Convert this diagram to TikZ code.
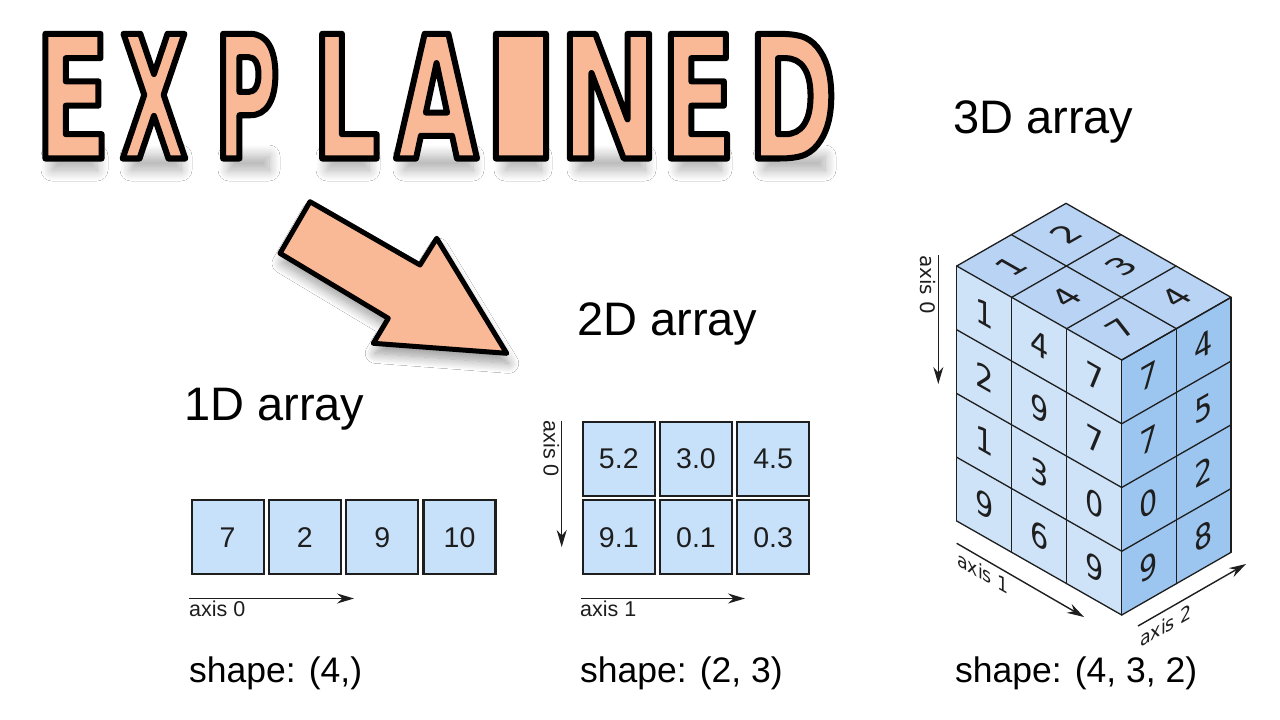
\documentclass[tikz,border=0pt]{standalone}
\usepackage{fontspec}
\setmainfont{Liberation Sans}
\newfontfamily\dejavu{DejaVu Sans}
\newfontfamily\fE{DejaVu Sans}[FakeStretch=0.635]
\newfontfamily\fX{DejaVu Sans}[FakeStretch=0.50]
\newfontfamily\fP{DejaVu Sans}[FakeStretch=0.51]
\newfontfamily\fL{DejaVu Sans}[FakeStretch=0.615]
\newfontfamily\fA{DejaVu Sans}[FakeStretch=0.62]
\newfontfamily\fI{DejaVu Sans}[FakeStretch=1.56]
\newfontfamily\fN{DejaVu Sans}[FakeStretch=0.71]
\newfontfamily\fD{DejaVu Sans}[FakeStretch=0.625]
\usetikzlibrary{arrows.meta,shadows.blur}
\definecolor{peach}{RGB}{250,185,150}
\definecolor{cellblue}{RGB}{200,225,250}
\definecolor{faceL}{RGB}{206,226,248}
\definecolor{faceT}{RGB}{184,211,243}
\definecolor{faceR}{RGB}{156,198,240}
\definecolor{ink}{RGB}{30,30,30}
\newcommand{\outl}[1]{\special{pdf:literal direct 1 j 6 w 0 0 0 RG 2 Tr}#1\special{pdf:literal direct 0 Tr}}
\begin{document}
\begin{tikzpicture}[x=1pt,y=-1pt,
  cell/.style={draw=ink, line width=2.2pt, fill=cellblue, minimum width=72pt, minimum height=74pt, inner sep=0pt, font=\fontsize{28.5}{30}\selectfont, text=ink},
  title/.style={anchor=base west, inner sep=0pt, font=\fontsize{47}{50}\selectfont, text=black},
  shapelbl/.style={anchor=base west, inner sep=0pt, font=\fontsize{35.5}{40}\selectfont, text=black},
  axlbl/.style={anchor=base west, inner sep=0pt, font=\fontsize{21.5}{24}\selectfont, text=ink},
  cubelbl/.style={anchor=base west, inner sep=0pt, font=\dejavu\fontsize{20}{24}\selectfont, text=ink},
  axarrow/.style={draw=ink, line width=1.4pt, -{Stealth[length=17pt,width=10pt]}},
  cubenum/.style={inner sep=0pt, font=\dejavu\fontsize{33}{36}\selectfont, text=ink},
  cubeline/.style={draw=ink, line width=1.3pt, line join=round, line cap=round},
  bigltr/.style={anchor=base, inner sep=0pt, text=peach, font=\bfseries\fontsize{171}{171}\selectfont},
  lface/.style={cm={0.869,-0.495,0,1,(0,0)}},
  rface/.style={cm={0.868,0.497,0,1,(0,0)}},
  tface/.style={cm={0.868,0.497,-0.869,0.495,(0,0)}},
  lshadow/.style={blur shadow={shadow xshift=2pt, shadow yshift=-10pt, shadow blur radius=11pt, shadow blur steps=14, shadow opacity=32}}
]
\fill[white] (0,0) rectangle (1280,720);
\useasboundingbox (0,0) rectangle (1280,720);

% ---- EXPLAINED ----
\foreach \xa/\xb in {41/104, 120/188, 218/276, 316/376, 393/480, 494/548, 567/652, 668/728, 753/832}
  \path[lshadow] (\xa+9,146) rectangle (\xb-9,160);
\node[bigltr] (l1) at (72.5,158.5) {\fE\outl{E}};
\node[bigltr] (l2) at (154,158.5) {\fX\outl{X}};
\node[bigltr] (l3) at (247,158.5) {\fP\outl{P}};
\node[bigltr] (l4) at (346,158.5) {\fL\outl{L}};
\node[bigltr] (l5) at (436.5,158.5) {\fA\outl{A}};
\node[bigltr] (l6) at (521,158.5) {\fI\outl{I}};
\node[bigltr] (l7) at (609.5,158.5) {\fN\outl{N}};
\node[bigltr] (l8) at (698,158.5) {\fE\outl{E}};
\node[bigltr] (l9) at (792.5,158.5) {\fD\outl{D}};

% ---- big arrow ----
\draw[line width=5pt, line join=round, draw=black, fill=peach,
  blur shadow={shadow xshift=2pt, shadow yshift=-10pt, shadow blur radius=10pt, shadow blur steps=14, shadow opacity=40}]
  (310,201.7) -- (420,265) -- (436.7,238.3) -- (506.7,353.3) -- (373.3,343.3) -- (388.3,318.3) -- (280,253.3) -- cycle;

% ---- titles ----
\node[title] (t1) at (184,420) {1D array};
\node[title] (t2) at (577,335) {2D array};
\node[title] (t3) at (953,133) {3D array};

% ---- 1D array ----
\node[cell] (a1) at (227.6,537.2) {7};
\node[cell] (a2) at (304.9,537.2) {2};
\node[cell] (a3) at (382.2,537.2) {9};
\node[cell] (a4) at (459.5,537.2) {10};
\coordinate (o1s) at (189,598.5);
\coordinate (o1e) at (354,598.5);
\draw[axarrow] (o1s) -- (o1e);
\node[axlbl] (o1l) at (189,616.5) {axis 0};

% ---- 2D array ----
\node[cell] (b11) at (618.8,458.7) {5.2};
\node[cell] (b12) at (696.0,458.7) {3.0};
\node[cell] (b13) at (773.2,458.7) {4.5};
\node[cell] (b21) at (618.8,537.2) {9.1};
\node[cell] (b22) at (696.0,537.2) {0.1};
\node[cell] (b23) at (773.2,537.2) {0.3};
\coordinate (p1s) at (580.5,598.5);
\coordinate (p1e) at (745,598.5);
\draw[axarrow] (p1s) -- (p1e);
\node[axlbl] (p1l) at (580,616.5) {axis 1};
\coordinate (p0s) at (561.7,420.5);
\coordinate (p0e) at (561.7,547);
\draw[axarrow] (p0s) -- (p0e);
\node[axlbl, rotate=-90] (p0l) at (543.5,420.5) {axis 0};

% ---- 3D array ----
\fill[faceL] (956.7,266) -- (1121.7,360) -- (1121.7,615) -- (956.7,521) -- cycle;
\fill[faceT] (956.7,266) -- (1121.7,360) -- (1231.04,297.34) -- (1066.04,203.34) -- cycle;
\fill[faceR] (1121.7,360) -- (1231.04,297.34) -- (1231.04,552.34) -- (1121.7,615) -- cycle;
\foreach \i in {0,1,2,3} {
  \draw[cubeline] ({956.7+55*\i},{266+31.33*\i}) -- ++(0,255);
  \draw[cubeline] ({956.7+55*\i},{266+31.33*\i}) -- ++(109.34,-62.66);
}
\foreach \r in {0,...,4} {
  \draw[cubeline] (956.7,{266+63.75*\r}) -- ++(165,94);
  \draw[cubeline] (1121.7,{360+63.75*\r}) -- ++(109.34,-62.66);
}
\foreach \j in {1,2} {
  \draw[cubeline] ({1121.7+54.67*\j},{360-31.33*\j}) -- ++(0,255);
  \draw[cubeline] ({956.7+54.67*\j},{266-31.33*\j}) -- ++(165,94);
}
\foreach \i/\r/\v in {0/0/1,0/1/2,0/2/1,0/3/9,1/0/4,1/1/9,1/2/3,1/3/6,2/0/7,2/1/7,2/2/0,2/3/9} {
  \begin{scope}[shift={({956.7+55*(\i+0.5)},{266+31.33*(\i+0.5)+63.75*(\r+0.5)})}, lface]
    \node[cubenum, transform shape] (L\i\r) at (0,0) {\v};
  \end{scope}
}
\foreach \j/\r/\v in {0/0/7,0/1/7,0/2/0,0/3/9,1/0/4,1/1/5,1/2/2,1/3/8} {
  \begin{scope}[shift={({1121.7+54.67*(\j+0.5)},{360-31.33*(\j+0.5)+63.75*(\r+0.5)})}, rface]
    \node[cubenum, transform shape] (R\j\r) at (0,0) {\v};
  \end{scope}
}
\foreach \i/\j/\v in {0/0/1,0/1/2,1/0/4,1/1/3,2/0/7,2/1/4} {
  \begin{scope}[shift={({956.7+55*(\i+0.5)+54.67*(\j+0.5)},{266+31.33*(\i+0.5)-31.33*(\j+0.5)})}, tface]
    \node[cubenum, transform shape] (T\i\j) at (0,0) {\v};
  \end{scope}
}
\coordinate (q0s) at (938.3,255);
\coordinate (q0e) at (938.3,384);
\draw[axarrow] (q0s) -- (q0e);
\node[cubelbl, rotate=-90] (q0l) at (920,255) {axis 0};
\coordinate (q1s) at (956.7,543.3);
\coordinate (q1e) at (1084,617);
\draw[axarrow] (q1s) -- (q1e);
\begin{scope}[shift={(957,565)}, lface]
  \node[cubelbl, transform shape] (q1l) at (0,0) {axis 1};
\end{scope}
\coordinate (q2s) at (1138,626);
\coordinate (q2e) at (1246,564);
\draw[axarrow] (q2s) -- (q2e);
\begin{scope}[shift={(1140,648)}, rface]
  \node[cubelbl, transform shape] (q2l) at (0,0) {axis 2};
\end{scope}

% ---- shape labels ----
\node[shapelbl] (s1) at (189,682) {shape: (4,)};
\node[shapelbl] (s2) at (580,682) {shape: (2, 3)};
\node[shapelbl] (s3) at (955,682) {shape: (4, 3, 2)};
\end{tikzpicture}
\end{document}
